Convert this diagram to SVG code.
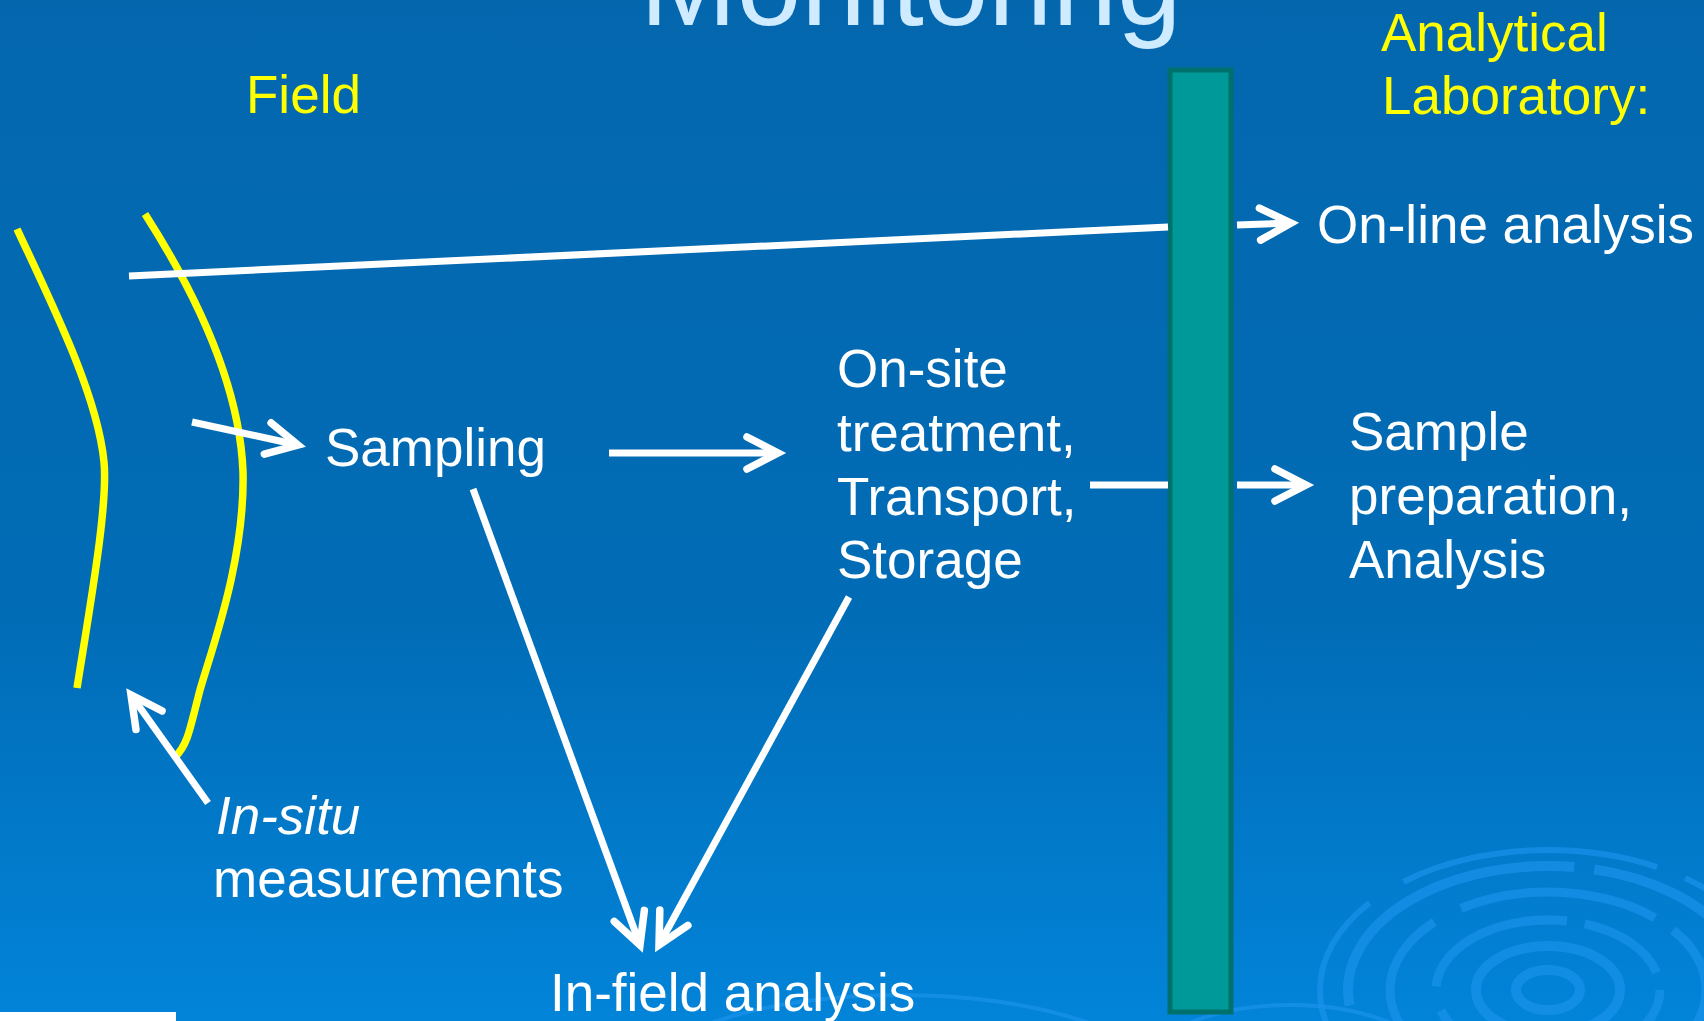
<svg xmlns="http://www.w3.org/2000/svg" width="1704" height="1021" viewBox="0 0 1704 1021">
  <defs>
    <linearGradient id="bg" x1="0" y1="0" x2="0" y2="1">
      <stop offset="0" stop-color="#0467AE"/>
      <stop offset="0.6" stop-color="#016CB6"/>
      <stop offset="1" stop-color="#0284D9"/>
    </linearGradient>
    <marker id="arrow" markerUnits="userSpaceOnUse" markerWidth="50" markerHeight="50" viewBox="-40 -25 50 50" refX="0" refY="0" orient="auto" overflow="visible">
      <path d="M-31,-16 L0,0 L-31,16" fill="none" stroke="#FFFFFF" stroke-width="7.5" stroke-linecap="round" stroke-linejoin="miter"/>
    </marker>
    <style>
      .txt { font-family: "Liberation Sans", Arial, sans-serif; font-size: 53px; fill: #FFFFFF; }
      .hdr { font-family: "Liberation Sans", Arial, sans-serif; font-size: 53px; fill: #FFFF00; }
      .title { font-family: "Liberation Sans", Arial, sans-serif; font-size: 116px; fill: #CFEBFF; }
      .conn { fill: none; stroke: #FFFFFF; stroke-width: 7; }
      .arr { marker-end: url(#arrow); }
      .river { fill: none; stroke: #FFFF00; stroke-width: 7.5; }
      .ripple { fill: none; stroke: #1C93EC; stroke-opacity: 0.65; }
    </style>
  </defs>

  <rect x="0" y="0" width="1704" height="1021" fill="url(#bg)"/>

  <g id="ripples">
    <ellipse class="ripple" cx="1548" cy="990" rx="32" ry="20" stroke-width="10"/>
    <ellipse class="ripple" cx="1548" cy="990" rx="72" ry="44" stroke-width="10"/>
    <ellipse class="ripple" cx="1548" cy="990" rx="112" ry="70" stroke-width="9" stroke-dasharray="160 18 90 25"/>
    <ellipse class="ripple" cx="1548" cy="990" rx="158" ry="98" stroke-width="9" stroke-dasharray="120 30 200 22"/>
    <ellipse class="ripple" cx="1548" cy="990" rx="200" ry="124" stroke-width="10" stroke-dasharray="300 20 150 30"/>
    <ellipse class="ripple" cx="1548" cy="990" rx="228" ry="140" stroke-width="6" stroke-dasharray="180 40 260 30"/>
    <ellipse class="ripple" cx="1290" cy="1075" rx="150" ry="70" stroke-width="4" stroke-opacity="0.35"/>
    <ellipse class="ripple" cx="900" cy="1085" rx="260" ry="90" stroke-width="4" stroke-opacity="0.3"/>
  </g>

  <rect x="0" y="1012" width="176" height="9" fill="#FFFFFF"/>

  <g id="title">
    <text class="title" x="640" y="25">Monitoring</text>
  </g>

  <g id="divider">
    <rect x="1170" y="70" width="61" height="942" fill="#009999" stroke="#00706C" stroke-width="5"/>
  </g>

  <g id="river">
    <path class="river" d="M17,229 C60,320 98,400 104,462 C108,505 91,600 77,688"/>
    <path class="river" d="M145,214 C200,300 240,390 243,472 C245,560 212,648 200,690 C190,728 188,745 175,757"/>
  </g>

  <g id="connectors">
    <path class="conn" d="M129,276 L1168,227"/>
    <path class="conn arr" d="M1237,225 L1291,223"/>
    <path class="conn arr" d="M192,422 L298,445"/>
    <path class="conn arr" d="M609,453 L778,453"/>
    <path class="conn" d="M1090,485 L1168,485"/>
    <path class="conn arr" d="M1237,485 L1306,485"/>
    <path class="conn arr" d="M208,803 L131,695"/>
    <path class="conn arr" d="M473,489 L640,945"/>
    <path class="conn arr" d="M849,597 L659,945"/>
  </g>

  <g id="field-label">
    <text class="hdr" x="246" y="113">Field</text>
  </g>
  <g id="lab-label">
    <text class="hdr" x="1381" y="51">Analytical</text>
    <text class="hdr" x="1382" y="114">Laboratory:</text>
  </g>
  <g id="online-analysis">
    <text class="txt" x="1317" y="243">On-line analysis</text>
  </g>
  <g id="sampling">
    <text class="txt" x="325" y="466">Sampling</text>
  </g>
  <g id="onsite">
    <text class="txt" x="837" y="387">On-site</text>
    <text class="txt" x="837" y="451">treatment,</text>
    <text class="txt" x="837" y="515">Transport,</text>
    <text class="txt" x="837" y="578">Storage</text>
  </g>
  <g id="sample-prep">
    <text class="txt" x="1349" y="450">Sample</text>
    <text class="txt" x="1349" y="514">preparation,</text>
    <text class="txt" x="1349" y="578">Analysis</text>
  </g>
  <g id="insitu">
    <text class="txt" x="216" y="834" font-style="italic">In-situ</text>
    <text class="txt" x="213" y="897">measurements</text>
  </g>
  <g id="infield">
    <text class="txt" x="550" y="1011">In-field analysis</text>
  </g>
</svg>
